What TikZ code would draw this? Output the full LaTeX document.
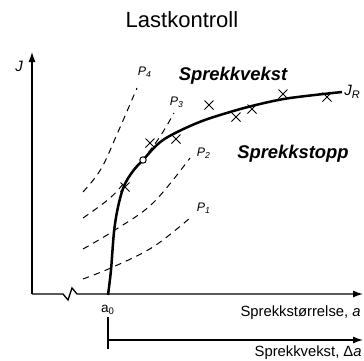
\documentclass[tikz,border=0pt]{standalone}
\usepackage{fontspec}
\setmainfont{Liberation Sans}
\usetikzlibrary{arrows.meta,shapes.misc}
\begin{document}
\begin{tikzpicture}[x=0.5pt,y=-0.5pt,
  axis/.style={line width=0.65pt,-{Latex[length=5pt,width=3.5pt]}},
  thinline/.style={line width=0.65pt},
  jrcurve/.style={line width=1.25pt},
  pcurve/.style={line width=0.5pt,dash pattern=on 3.2pt off 2.6pt},
  xm/.style={cross out,draw,line width=0.5pt,minimum size=4pt,inner sep=0pt},
  omark/.style={circle,draw,fill=white,line width=0.5pt,minimum size=3.2pt,inner sep=0pt},
  lbl/.style={inner sep=0pt,font=\fontsize{7.4}{9}\selectfont},
  plbl/.style={inner sep=0pt,font=\fontsize{6.2}{7}\selectfont\itshape},
  jlbl/.style={inner sep=0pt,font=\fontsize{7.5}{9}\selectfont\itshape},
  region/.style={inner sep=0pt,font=\fontsize{9.2}{11}\selectfont\bfseries\itshape},
]
\useasboundingbox (0,0) rectangle (364,360);

% title
\node[inner sep=0pt,anchor=base,font=\fontsize{11}{13}\selectfont] (title) at (182,27) {Lastkontroll};

% axes
\coordinate (O) at (32,294);
\coordinate (ytop) at (32,52);
\coordinate (z1) at (63,294);
\coordinate (z2) at (68,300);
\coordinate (z3) at (72,288);
\coordinate (z4) at (77,294);
\coordinate (xend) at (363,294);
\draw[axis] (O) -- (ytop);
\draw[axis] (O) -- (z1) -- (z2) -- (z3) -- (z4) -- (xend);

% delta-a axis
\coordinate (t1) at (108,317);
\coordinate (t2) at (108,349);
\coordinate (d0) at (108,340);
\coordinate (d1) at (363,340);
\draw[thinline] (t1) -- (t2);
\draw[axis] (d0) -- (d1);

% labels
\node[jlbl] (J) at (19,66) {J};
\node[inner sep=0pt,anchor=base,font=\fontsize{6.8}{8}\selectfont] (a0) at (108,312) {a\textsubscript{0}};
\node[lbl,anchor=base east] (xl) at (361,316) {Sprekkstørrelse, \textit{a}};
\node[lbl,anchor=base east] (dl) at (362,356) {Sprekkvekst, Δ\textit{a}};

% dashed load lines
\draw[pcurve] plot[smooth,tension=0.6] coordinates {(83,279) (113,267) (153,247) (190,218)};
\draw[pcurve] plot[smooth,tension=0.6] coordinates {(83,249) (115,230) (153,203) (190,158)};
\draw[pcurve] plot[smooth,tension=0.6] coordinates {(83,218) (110,198) (128,178) (157,141) (174,113)};
\draw[pcurve] plot[smooth,tension=0.6] coordinates {(83,192) (101,169) (118,132) (137,88)};

\node[plbl] (P4) at (145,72) {P\textsubscript{4}};
\node[plbl] (P3) at (177,102) {P\textsubscript{3}};
\node[plbl] (P2) at (204,153) {P\textsubscript{2}};
\node[plbl] (P1) at (204,208) {P\textsubscript{1}};

% J_R curve
\draw[jrcurve] plot[smooth,tension=0.55] coordinates {(108,295) (111,270) (114,232) (118,207) (124,186) (133,171) (143,160) (163,140) (197,123) (230,112) (260,104) (290,98) (342,92)};
\node[jlbl,anchor=west] (JR) at (344,92) {J\textsubscript{\fontsize{5.5}{6}\selectfont R}};

% test points
\node[xm] (c1) at (125,187) {};
\node[xm] (c2) at (150,143) {};
\node[xm] (c3) at (176,139) {};
\node[xm] (c4) at (209,105) {};
\node[xm] (c5) at (236,117) {};
\node[xm] (c6) at (252,109) {};
\node[xm] (c7) at (283,94) {};
\node[xm] (c8) at (327,97) {};
\node[omark] (ini) at (143,160) {};

% region labels
\node[region,anchor=base] (grow) at (233,80) {Sprekkvekst};
\node[region,anchor=base] (stop) at (293,158) {Sprekkstopp};
\end{tikzpicture}
\end{document}
